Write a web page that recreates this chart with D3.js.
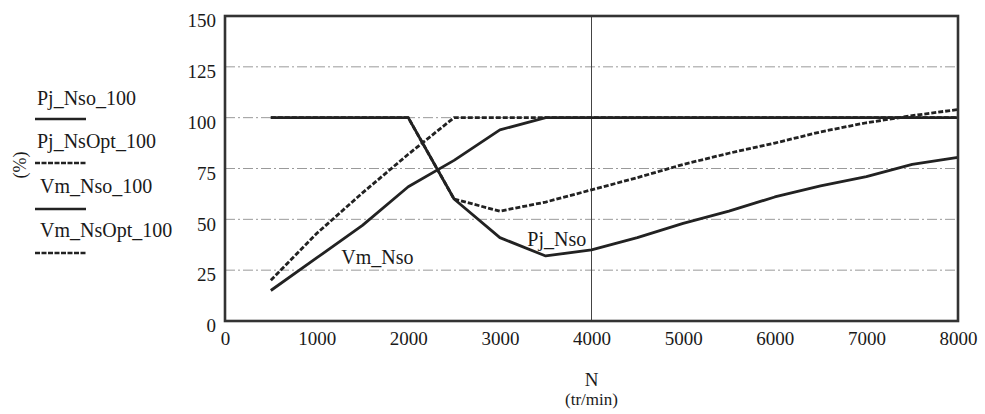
<!DOCTYPE html>
<html>
<head>
<meta charset="utf-8">
<script src="https://cdn.jsdelivr.net/npm/d3@7/dist/d3.min.js"></script>
<style>
  html, body { margin: 0; padding: 0; background: #fff; }
  svg text { font-family: "Liberation Serif", "DejaVu Serif", serif; fill: #1a1a1a; }
</style>
</head>
<body>
<svg id="chart" width="985" height="414"></svg>
<script>
// ---- data ----
const rpm = [500, 1000, 1500, 2000, 2500, 3000, 3500, 4000, 4500, 5000, 5500, 6000, 6500, 7000, 7500, 8000];
const pjNso    = [100, 100, 100, 100, 60, 41, 32, 35, 41, 48, 54, 61, 66.5, 71, 77, 80.5];
const pjNsOpt  = [100, 100, 100, 100, 60, 54, 58.5, 64.5, 70.5, 77, 82.5, 87.5, 93, 97.5, 101, 104];
const vmNso    = [15, 31, 47, 66, 79, 94, 100, 100, 100, 100, 100, 100, 100, 100, 100, 100];
const vmNsOpt  = [20, 43, 63, 82, 100, 100, 100, 100, 100, 100, 100, 100, 100, 100, 100, 100];

const xTicks = [0, 1000, 2000, 3000, 4000, 5000, 6000, 7000, 8000];
const yTicks = [0, 25, 50, 75, 100, 125, 150];
const yGrid = [25, 50, 75, 100, 125];
const xGrid = [4000];

const seriesNames = ["Pj_Nso_100", "Pj_NsOpt_100", "Vm_Nso_100", "Vm_NsOpt_100"];
const seriesDash = [false, true, false, true];
const seriesData = [pjNso, pjNsOpt, vmNso, vmNsOpt];

const curveLabels = [
  { text: "Vm_Nso", x: 1270, y: 28 },
  { text: "Pj_Nso", x: 3300, y: 37 }
];

// ---- layout ----
const svg = d3.select("#chart");
const W = 985, H = 414;
const m = { left: 225, top: 16, right: 27, bottom: 93 };
const x = d3.scaleLinear().domain([0, 8000]).range([m.left, W - m.right]);
const y = d3.scaleLinear().domain([0, 150]).range([H - m.bottom, m.top]);

// grid
svg.append("g").selectAll("line").data(yGrid).join("line")
  .attr("x1", x(0)).attr("x2", x(8000))
  .attr("y1", d => y(d)).attr("y2", d => y(d))
  .attr("stroke", "#9a9a9a").attr("stroke-width", 1)
  .attr("stroke-dasharray", "10,3,2,3");

svg.append("g").selectAll("line").data(xGrid).join("line")
  .attr("x1", d => x(d)).attr("x2", d => x(d))
  .attr("y1", y(0)).attr("y2", y(150))
  .attr("stroke", "#444").attr("stroke-width", 1);

// curves
const line = d3.line().x((d, i) => x(rpm[i])).y(d => y(d));
seriesData.forEach((s, k) => {
  svg.append("path")
    .attr("d", line(s))
    .attr("fill", "none")
    .attr("stroke", "#222")
    .attr("stroke-width", 2.8)
    .attr("stroke-linejoin", "round")
    .attr("stroke-dasharray", seriesDash[k] ? "5,2" : null);
});

// frame
svg.append("rect")
  .attr("x", x(0)).attr("y", y(150))
  .attr("width", x(8000) - x(0)).attr("height", y(0) - y(150))
  .attr("fill", "none").attr("stroke", "#333").attr("stroke-width", 2.6);

// axes
const xAxis = d3.axisBottom(x).tickValues(xTicks).tickSize(0).tickPadding(11).tickFormat(d3.format("d"));
const gx = svg.append("g").attr("transform", `translate(0,${y(0)})`).call(xAxis);
gx.select(".domain").remove();
gx.selectAll("text").attr("font-size", 19).attr("font-family", "Liberation Serif").attr("fill", "#1a1a1a");

const yAxis = d3.axisLeft(y).tickValues(yTicks).tickSize(0).tickPadding(9).tickFormat(d3.format("d"));
const gy = svg.append("g").attr("transform", `translate(${x(0)},0)`).call(yAxis);
gy.select(".domain").remove();
gy.selectAll("text").attr("font-size", 19).attr("font-family", "Liberation Serif").attr("fill", "#1a1a1a").attr("dy", "0.72em").attr("y", -3);

// axis titles
svg.append("text").attr("x", x(4000)).attr("y", 386).attr("text-anchor", "middle")
  .attr("font-size", 19).text("N");
svg.append("text").attr("x", x(4000)).attr("y", 405).attr("text-anchor", "middle")
  .attr("font-size", 17).text("(tr/min)");
svg.append("text").attr("transform", "translate(26,165) rotate(-90)").attr("text-anchor", "middle")
  .attr("font-size", 18).text("(%)");

// curve labels
curveLabels.forEach(l => {
  svg.append("text").attr("x", x(l.x)).attr("y", y(l.y)).attr("font-size", 20).text(l.text);
});

// legend
const legTextY = [105, 148, 193, 237];
const legLineY = [119, 163, 209, 253];
seriesNames.forEach((n, k) => {
  svg.append("text").attr("x", k < 2 ? 37 : 40).attr("y", legTextY[k]).attr("font-size", 20).text(n);
  svg.append("line").attr("x1", 35).attr("x2", 86).attr("y1", legLineY[k]).attr("y2", legLineY[k])
    .attr("stroke", "#222").attr("stroke-width", 2.4)
    .attr("stroke-dasharray", seriesDash[k] ? "5,1.5" : null);
});
</script>
</body>
</html>
